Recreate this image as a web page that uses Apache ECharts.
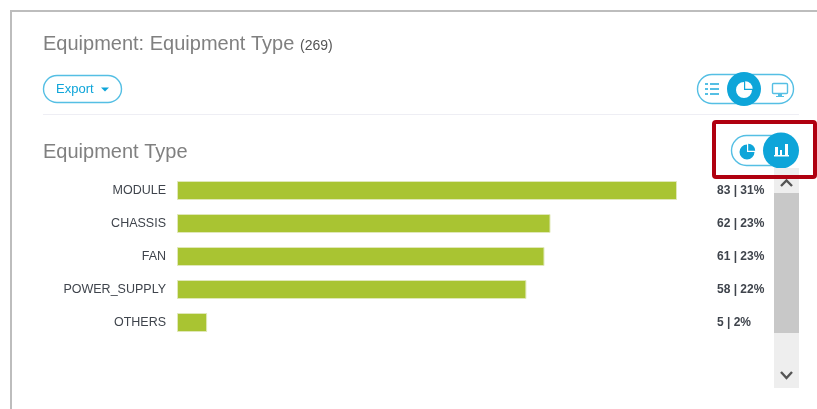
<!DOCTYPE html>
<html>
<head>
<meta charset="utf-8">
<style>html,body{margin:0;padding:0;background:#fff}#chart{width:817px;height:409px}</style>
<script src="https://cdn.jsdelivr.net/npm/echarts@6/dist/echarts.min.js"></script>
</head>
<body>
<div id="chart"></div>
<script>
const categories = ['MODULE', 'CHASSIS', 'FAN', 'POWER_SUPPLY', 'OTHERS'];
const counts = [83, 62, 61, 58, 5];
const shares = [31, 23, 23, 22, 2];
const valueLabels = counts.map((c, i) => c + ' | ' + shares[i] + '%');

const FONT = '"Liberation Sans", Arial, sans-serif';
const BLUE = '#0ea5d9';
const PALE = '#55bfe4';

const rect = (x, y, width, height, fill, r) => ({
  type: 'rect', shape: { x, y, width, height, r: r || 0 }, style: { fill }, silent: true
});
const outline = (x, y, width, height, stroke, lineWidth, r) => ({
  type: 'rect', shape: { x, y, width, height, r: r || 0 },
  style: { fill: 'transparent', stroke, lineWidth }, silent: true
});
const text = (x, y, value, font, fill) => ({
  type: 'text', style: { x, y, text: value, font, fill, textVerticalAlign: 'middle' }, silent: true
});
const circle = (cx, cy, r, fill) => ({ type: 'circle', shape: { cx, cy, r }, style: { fill }, silent: true });
const poly = (points, stroke, lineWidth) => ({
  type: 'polyline', shape: { points }, style: { stroke, lineWidth, fill: 'none' }, silent: true
});

// Pie glyph: a three-quarter disc with a detached top-right wedge
const pieGlyph = (cx, cy, r, fill) => [
  { type: 'sector', shape: { cx, cy, r, startAngle: 0, endAngle: Math.PI * 1.5 }, style: { fill }, silent: true },
  { type: 'sector', shape: { cx: cx + 1.2, cy: cy - 1.2, r: r - 0.5, startAngle: -Math.PI / 2, endAngle: 0 }, style: { fill }, silent: true }
];

const chrome = [
  // Panel edge
  rect(11, 10, 806, 2, '#bdbdbd'),
  rect(10, 10, 2, 399, '#bdbdbd'),
  // Headings
  text(43, 44, 'Equipment: Equipment Type', '300 20px ' + FONT, '#808080'),
  text(300, 46, '(269)', '14px ' + FONT, '#555'),
  text(43, 152, 'Equipment Type', '300 20px ' + FONT, '#808080'),
  // Export button
  outline(43.5, 75.5, 78, 27, PALE, 1.4, 13.5),
  text(56, 89, 'Export', '13px ' + FONT, BLUE),
  { type: 'polygon', shape: { points: [[101, 87.5], [109, 87.5], [105, 91.5]] }, style: { fill: BLUE }, silent: true },
  // Section divider
  rect(43, 114, 756, 1, '#eeeef4'),
  // View switch
  outline(697.5, 74.5, 96, 29, PALE, 1.4, 14.5),
  rect(705, 83, 3, 2, PALE), rect(710, 83, 9, 2, PALE),
  rect(705, 88, 3, 2, PALE), rect(710, 88, 9, 2, PALE),
  rect(705, 93, 3, 2, PALE), rect(710, 93, 9, 2, PALE),
  circle(744, 89, 17, BLUE),
  ...pieGlyph(744, 90, 8, '#fff'),
  outline(772.5, 83.5, 15, 10, PALE, 1.4, 1),
  rect(778, 94, 4, 2, PALE),
  rect(776, 96, 8, 1, PALE),
  // Chart type switch
  outline(731.5, 135.5, 66, 30, PALE, 1.4, 15),
  ...pieGlyph(747, 152, 7.5, BLUE),
  circle(781, 150.5, 18, BLUE),
  rect(775, 147, 3, 8, '#fff'), rect(780, 150, 2, 5, '#fff'), rect(785, 144, 3, 11, '#fff'),
  rect(774, 155, 15, 1.5, '#fff'),
  // Scrollbar
  rect(774, 168, 25, 220, '#eeeeee'),
  rect(774, 193, 25, 140, '#c8c8c8'),
  poly([[781, 186], [786.5, 180.5], [792, 186]], '#555', 2.4),
  poly([[781, 372], [786.5, 378], [792, 372]], '#555', 2.4),
  // Highlight frame
  outline(714, 122, 101, 55, '#b00010', 4, 2)
];

const chart = echarts.init(document.getElementById('chart'), null, { renderer: 'canvas' });
chart.setOption({
  animation: false,
  backgroundColor: '#fff',
  textStyle: { fontFamily: FONT },
  grid: { left: 177, top: 174, width: 500, height: 165, containLabel: false },
  xAxis: { type: 'value', min: 0, max: 83, show: false },
  yAxis: [
    {
      type: 'category', data: categories, inverse: true,
      axisLine: { show: false }, axisTick: { show: false },
      axisLabel: { color: '#3f444c', fontSize: 12.5, margin: 11, fontFamily: FONT }
    },
    {
      type: 'category', data: valueLabels, inverse: true, position: 'right',
      axisLine: { show: false }, axisTick: { show: false },
      axisLabel: { color: '#3f444c', fontSize: 12, fontWeight: 'bold', margin: 40, align: 'left', fontFamily: FONT }
    }
  ],
  series: [{
    type: 'bar', data: counts, barWidth: 19,
    itemStyle: { color: '#a9c432', borderColor: '#e0e8b8', borderWidth: 1 },
    silent: true
  }],
  graphic: { elements: chrome }
});
</script>
</body>
</html>
